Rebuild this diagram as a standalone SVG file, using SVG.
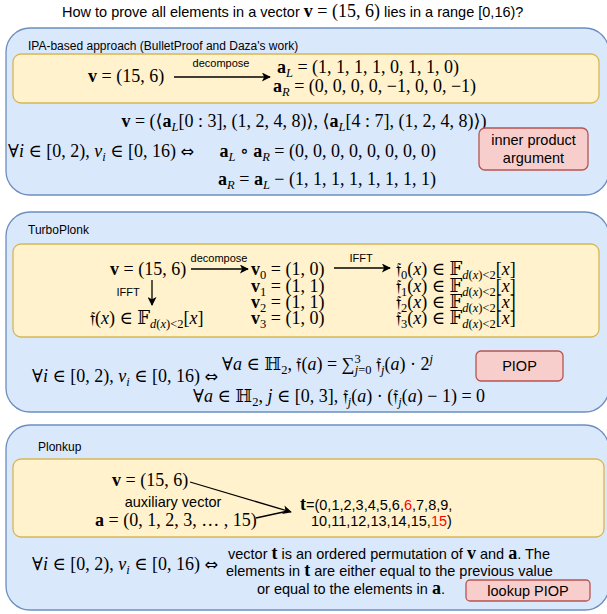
<svg xmlns="http://www.w3.org/2000/svg" width="607" height="614" viewBox="0 0 607 614">
<style>
.blue{fill:#dae8fc;stroke:#6c8ebf;stroke-width:1.3}
.yel{fill:#fff2cc;stroke:#d6b656;stroke-width:1.3}
.red{fill:#f8cecc;stroke:#b85450;stroke-width:1.3}
.sans{font-family:"Liberation Sans",Arial,sans-serif;font-size:14.5px;fill:#000}
.lbl{font-family:"Liberation Sans",Arial,sans-serif;font-size:12px;fill:#000}
.tiny{font-family:"Liberation Sans",Arial,sans-serif;font-size:11px;fill:#000}
.m{font-family:"Liberation Serif","DejaVu Serif",serif;font-size:18px;fill:#000}
.b{font-weight:bold}
.i{font-style:italic}
.sm{font-size:12.5px}
.ser{font-family:"Liberation Serif","DejaVu Serif",serif}
.iff{font-family:"DejaVu Sans",sans-serif;font-size:16px}
.hl{fill:#ff0000}
.edge{stroke:#000;stroke-width:1.3;fill:none}
</style>
<defs>
<marker id="ah" viewBox="0 0 10 10" refX="9" refY="5" markerWidth="10" markerHeight="9" markerUnits="userSpaceOnUse" orient="auto">
<path d="M0,0 L10,5 L0,10 L2.5,5 z" fill="#000"/>
</marker>
</defs>

<g id="title">
<text class="sans" x="62" y="17" font-size="14">How to prove all elements in a vector <tspan class="ser b" font-size="18">v</tspan><tspan class="ser" font-size="18"> = (15, 6)</tspan> lies in a range [0,16)?</text>
</g>

<g id="ipa">
<rect class="blue" x="6" y="28" width="603" height="167" rx="24"/>
<text class="lbl" x="28" y="50">IPA-based approach (BulletProof and Daza's work)</text>
<rect class="yel" x="13" y="54" width="586" height="49" rx="8"/>
<text class="m" x="88" y="82"><tspan class="b">v</tspan> = (15, 6)</text>
<text class="tiny" x="221" y="67" text-anchor="middle">decompose</text>
<text class="m" x="277" y="73"><tspan class="b">a</tspan><tspan class="sm i" dy="4">L</tspan><tspan dy="-4"> = (1, 1, 1, 1, 0, 1, 1, 0)</tspan></text>
<text class="m" x="273" y="92"><tspan class="b">a</tspan><tspan class="sm i" dy="4">R</tspan><tspan dy="-4"> = (0, 0, 0, 0, −1, 0, 0, −1)</tspan></text>
<text class="m" x="304" y="127" text-anchor="middle"><tspan class="b">v</tspan> = (⟨<tspan class="b">a</tspan><tspan class="sm i" dy="4">L</tspan><tspan dy="-4">[0 : 3], (1, 2, 4, 8)⟩, ⟨</tspan><tspan class="b">a</tspan><tspan class="sm i" dy="4">L</tspan><tspan dy="-4">[4 : 7], (1, 2, 4, 8)⟩)</tspan></text>
<text class="m" x="8" y="157">∀<tspan class="i">i</tspan> ∈ [0, 2), <tspan class="i">v</tspan><tspan class="sm i" dy="4">i</tspan><tspan dy="-4"> ∈ [0, 16) </tspan><tspan class="iff">⇔</tspan></text>
<text class="m" x="436" y="157" text-anchor="end"><tspan class="b">a</tspan><tspan class="sm i" dy="4">L</tspan><tspan dy="-4"> ∘ </tspan><tspan class="b">a</tspan><tspan class="sm i" dy="4">R</tspan><tspan dy="-4"> = (0, 0, 0, 0, 0, 0, 0, 0)</tspan></text>
<text class="m" x="436" y="185" text-anchor="end"><tspan class="b">a</tspan><tspan class="sm i" dy="4">R</tspan><tspan dy="-4"> = </tspan><tspan class="b">a</tspan><tspan class="sm i" dy="4">L</tspan><tspan dy="-4"> − (1, 1, 1, 1, 1, 1, 1, 1)</tspan></text>
</g>
<g id="ipa-arg">
<rect class="red" x="479" y="128" width="109" height="42" rx="6"/>
<text class="sans" x="533.5" y="145" text-anchor="middle">inner product</text>
<text class="sans" x="533.5" y="163" text-anchor="middle">argument</text>
</g>

<g id="turboplonk">
<rect class="blue" x="6" y="212" width="603" height="200" rx="24"/>
<text class="lbl" x="28" y="234">TurboPlonk</text>
<rect class="yel" x="13" y="244" width="586" height="93" rx="8"/>
<text class="m" x="110" y="275"><tspan class="b">v</tspan> = (15, 6)</text>
<text class="m" x="90" y="324">𝔣(<tspan class="i">x</tspan>) ∈ 𝔽<tspan class="sm i" dy="4">d</tspan><tspan class="sm">(</tspan><tspan class="sm i">x</tspan><tspan class="sm">)&lt;2</tspan><tspan dy="-4">[</tspan><tspan class="i">x</tspan>]</text>
<text class="m" x="251" y="275"><tspan class="b">v</tspan><tspan class="sm" dy="4">0</tspan><tspan dy="-4"> = (1, 0)</tspan></text>
<text class="m" x="251" y="291.5"><tspan class="b">v</tspan><tspan class="sm" dy="4">1</tspan><tspan dy="-4"> = (1, 1)</tspan></text>
<text class="m" x="251" y="308"><tspan class="b">v</tspan><tspan class="sm" dy="4">2</tspan><tspan dy="-4"> = (1, 1)</tspan></text>
<text class="m" x="251" y="324"><tspan class="b">v</tspan><tspan class="sm" dy="4">3</tspan><tspan dy="-4"> = (1, 0)</tspan></text>
<text class="m" x="396" y="275">𝔣<tspan class="sm" dy="4">0</tspan><tspan dy="-4">(</tspan><tspan class="i">x</tspan>) ∈ 𝔽<tspan class="sm i" dy="4">d</tspan><tspan class="sm">(</tspan><tspan class="sm i">x</tspan><tspan class="sm">)&lt;2</tspan><tspan dy="-4">[</tspan><tspan class="i">x</tspan>]</text>
<text class="m" x="396" y="291.5">𝔣<tspan class="sm" dy="4">1</tspan><tspan dy="-4">(</tspan><tspan class="i">x</tspan>) ∈ 𝔽<tspan class="sm i" dy="4">d</tspan><tspan class="sm">(</tspan><tspan class="sm i">x</tspan><tspan class="sm">)&lt;2</tspan><tspan dy="-4">[</tspan><tspan class="i">x</tspan>]</text>
<text class="m" x="396" y="308">𝔣<tspan class="sm" dy="4">2</tspan><tspan dy="-4">(</tspan><tspan class="i">x</tspan>) ∈ 𝔽<tspan class="sm i" dy="4">d</tspan><tspan class="sm">(</tspan><tspan class="sm i">x</tspan><tspan class="sm">)&lt;2</tspan><tspan dy="-4">[</tspan><tspan class="i">x</tspan>]</text>
<text class="m" x="396" y="324">𝔣<tspan class="sm" dy="4">3</tspan><tspan dy="-4">(</tspan><tspan class="i">x</tspan>) ∈ 𝔽<tspan class="sm i" dy="4">d</tspan><tspan class="sm">(</tspan><tspan class="sm i">x</tspan><tspan class="sm">)&lt;2</tspan><tspan dy="-4">[</tspan><tspan class="i">x</tspan>]</text>
<text class="tiny" x="219" y="262" text-anchor="middle">decompose</text>
<text class="tiny" x="361" y="262" text-anchor="middle">IFFT</text>
<text class="tiny" x="128" y="296" text-anchor="middle">IFFT</text>
<text class="m" x="32" y="382">∀<tspan class="i">i</tspan> ∈ [0, 2), <tspan class="i">v</tspan><tspan class="sm i" dy="4">i</tspan><tspan dy="-4"> ∈ [0, 16) </tspan><tspan class="iff">⇔</tspan></text>
<text class="m" x="222" y="370">∀<tspan class="i">a</tspan> ∈ ℍ<tspan class="sm" dy="4">2</tspan><tspan dy="-4">, 𝔣(</tspan><tspan class="i">a</tspan>) = ∑<tspan class="sm" dy="-7">3</tspan><tspan class="sm i" dx="-6" dy="11">j</tspan><tspan class="sm">=0</tspan><tspan dy="-4"> 𝔣</tspan><tspan class="sm i" dy="4">j</tspan><tspan dy="-4">(</tspan><tspan class="i">a</tspan>) · 2<tspan class="sm i" dy="-7">j</tspan></text>
<text class="m" x="193" y="402">∀<tspan class="i">a</tspan> ∈ ℍ<tspan class="sm" dy="4">2</tspan><tspan dy="-4">, </tspan><tspan class="i">j</tspan> ∈ [0, 3], 𝔣<tspan class="sm i" dy="4">j</tspan><tspan dy="-4">(</tspan><tspan class="i">a</tspan>) · (𝔣<tspan class="sm i" dy="4">j</tspan><tspan dy="-4">(</tspan><tspan class="i">a</tspan>) − 1) = 0</text>
</g>
<g id="turbo-piop">
<rect class="red" x="476" y="351" width="87" height="30" rx="5"/>
<text class="sans" x="519.5" y="371" text-anchor="middle">PIOP</text>
</g>

<g id="plonkup">
<rect class="blue" x="6" y="425" width="603" height="185" rx="24"/>
<text class="lbl" x="38" y="451">Plonkup</text>
<rect class="yel" x="13" y="459" width="591" height="78" rx="8"/>
<text class="m" x="112" y="486"><tspan class="b">v</tspan> = (15, 6)</text>
<text class="sans" x="173" y="507" text-anchor="middle">auxiliary vector</text>
<text class="m" x="95" y="526"><tspan class="b">a</tspan> = (0, 1, 2, 3, … , 15)</text>
<text class="sans" x="300" y="510"><tspan class="ser b" font-size="18">t</tspan>=(0,1,2,3,4,5,6,<tspan class="hl">6</tspan>,7,8,9,</text>
<text class="sans" x="311" y="526">10,11,12,13,14,15,<tspan class="hl">15</tspan>)</text>
<text class="m" x="32" y="570" font-size="17.5">∀<tspan class="i">i</tspan> ∈ [0, 2), <tspan class="i">v</tspan><tspan class="sm i" dy="4">i</tspan><tspan dy="-4"> ∈ [0, 16) </tspan><tspan class="iff">⇔</tspan></text>
<text class="sans" x="228" y="559">vector <tspan class="ser b" font-size="18">t</tspan> is an ordered permutation of  <tspan class="ser b" font-size="18">v</tspan> and <tspan class="ser b" font-size="18">a</tspan>. The</text>
<text class="sans" x="226" y="576">elements in <tspan class="ser b" font-size="18">t</tspan> are either equal to the previous value</text>
<text class="sans" x="257" y="594">or equal to the elements in <tspan class="ser b" font-size="18">a</tspan>.</text>
</g>
<g id="lookup-piop">
<rect class="red" x="466" y="580" width="124" height="21" rx="4"/>
<text class="sans" x="528" y="596" text-anchor="middle">lookup PIOP</text>
</g>

<g id="connectors">
<path class="edge" d="M174,77 H270" marker-end="url(#ah)"/>
<path class="edge" d="M191,269 H248" marker-end="url(#ah)"/>
<path class="edge" d="M334,268 H390" marker-end="url(#ah)"/>
<path class="edge" d="M152,280 V305" marker-end="url(#ah)"/>
<path class="edge" d="M190,482 L291,512" marker-end="url(#ah)"/>
<path class="edge" d="M256,518 L288,511"/>
</g>
</svg>
